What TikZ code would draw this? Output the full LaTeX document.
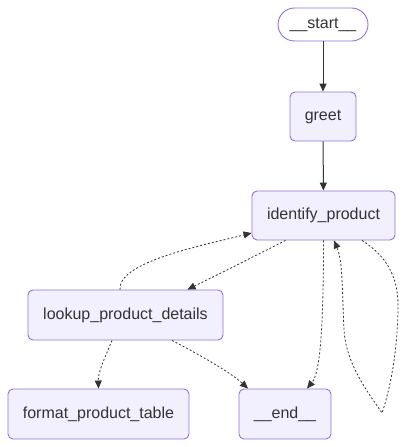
\documentclass[tikz,border=0pt]{standalone}
\usepackage{fontspec}
\setmainfont{Liberation Sans}
\usetikzlibrary{arrows.meta}
\definecolor{nodefill}{HTML}{F2F0FF}
\definecolor{nodeline}{HTML}{9370DB}
\definecolor{ink}{HTML}{333333}
\tikzset{
  box/.style={draw=nodeline, fill=nodefill, line width=0.9pt, rounded corners=5pt,
    text=ink, font=\fontsize{16}{19}\selectfont, inner sep=0pt},
  stadium/.style={box, fill=white, rounded corners=16.5pt},
  edge/.style={draw=ink, line width=1pt, -{Triangle[length=8pt,width=7pt]}},
  dotedge/.style={edge, line width=0.8pt, dash pattern=on 2pt off 2pt},
}
\begin{document}
\begin{tikzpicture}[x=1pt,y=-1pt]
\useasboundingbox (0,0) rectangle (407,447);
\node[stadium, minimum width=90pt, minimum height=33pt] (start) at (323,24.5) {\_\_start\_\_};
\node[box, minimum width=66pt, minimum height=49pt] (greet) at (323,116.5) {greet};
\node[box, minimum width=143pt, minimum height=49pt] (identify) at (323.5,215.5) {identify\_product};
\node[box, minimum width=195pt, minimum height=50pt] (lookup) at (125.5,315) {lookup\_product\_details};
\node[box, minimum width=181pt, minimum height=50pt] (format) at (98.5,414) {format\_product\_table};
\node[box, minimum width=92pt, minimum height=50pt] (end) at (285,414) {\_\_end\_\_};

\draw[edge] (start) -- (greet);
\draw[edge] (greet) -- (identify);
\draw[dotedge] ([xshift=-38pt]identify.south) .. controls (255,256) and (215,276) .. ([xshift=62pt]lookup.north);
\draw[dotedge] ([xshift=-5.5pt]lookup.north) .. controls (118,262) and (200,246) .. ([yshift=-17.5pt]identify.west);
\draw[dotedge] ([xshift=-13.5pt]lookup.south) .. controls (104,360) and (98,372) .. (format.north);
\draw[dotedge] ([xshift=46.5pt]lookup.south) .. controls (200,355) and (230,372) .. ([xshift=-37pt]end.north);
\draw[dotedge] (identify.south) .. controls (323.5,350) and (318,375) .. ([xshift=22pt]end.north);
\draw[dotedge] ([xshift=38.5pt]identify.south) .. controls (385,255) and (398,275) .. (398,305)
  .. controls (398,350) and (390,390) .. (382,413)
  .. controls (370,395) and (346,365) .. (344,330)
  .. controls (342,290) and (343,262) .. ([xshift=10.5pt]identify.south);
\end{tikzpicture}
\end{document}
